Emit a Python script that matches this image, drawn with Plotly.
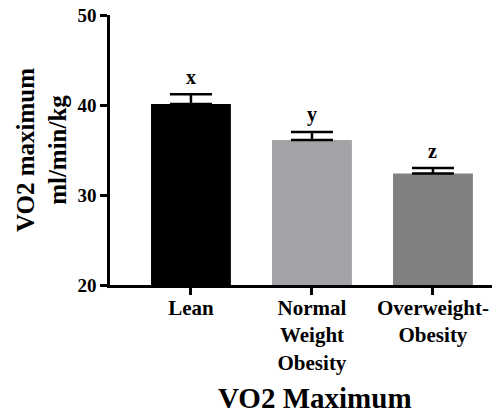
import plotly.graph_objects as go

categories = ["Lean", "Normal<br>Weight<br>Obesity", "Overweight-<br>Obesity"]
means = [40.1, 36.1, 32.4]
sem = [1.1, 0.9, 0.6]
letters = ["x", "y", "z"]
bar_colors = ["#000000", "#A3A3A7", "#808080"]
y_ticks = [20, 30, 40, 50]
x_title = "VO2 Maximum"
y_title = "VO2 maximum<br>ml/min/kg"

FONT = "Liberation Serif"

fig = go.Figure()
fig.add_trace(go.Bar(
    x=categories,
    y=[m - 20 for m in means],
    base=20,
    marker=dict(color=bar_colors, line=dict(width=0)),
    width=0.66,
    error_y=dict(type="data", symmetric=False, array=sem,
                 arrayminus=[0] * len(sem), color="black",
                 thickness=2.5, width=21),
    showlegend=False,
))

for c, m, s, l in zip(categories, means, sem, letters):
    fig.add_annotation(x=c, y=m + s, text=l, showarrow=False,
                       yanchor="bottom", yshift=4,
                       font=dict(family=FONT, size=20, color="black", weight="bold"))

fig.add_annotation(text=x_title, xref="paper", yref="paper", x=0.526, y=0,
                   xanchor="center", yanchor="middle", yshift=-113, showarrow=False,
                   font=dict(family=FONT, size=29, color="black", weight="bold"))

fig.update_layout(
    width=492, height=408,
    margin=dict(l=102, r=0, t=7, b=131, autoexpand=False),
    paper_bgcolor="white", plot_bgcolor="white",
    font=dict(family=FONT, color="black", weight="bold"),
    xaxis=dict(
        range=[-0.669, 2.554], automargin=False,
        showline=True, linecolor="black", linewidth=2.5,
        ticks="outside", ticklen=7, tickwidth=2.5, tickcolor="black",
        ticklabelstandoff=-5, ticklabeloverflow="allow",
        tickfont=dict(family=FONT, size=21, color="black", weight="bold"),
        showgrid=False, zeroline=False,
    ),
    yaxis=dict(
        range=[20, 50], tickvals=y_ticks, automargin=False,
        showline=True, linecolor="black", linewidth=2.5,
        ticks="outside", ticklen=7, tickwidth=2.5, tickcolor="black",
        ticklabeloverflow="allow",
        tickfont=dict(family=FONT, size=19, color="black", weight="bold"),
        showgrid=False, zeroline=False,
        title=dict(text=y_title, standoff=4,
                   font=dict(family=FONT, size=25, color="black", weight="bold")),
    ),
)

fig.write_html("out.html")
